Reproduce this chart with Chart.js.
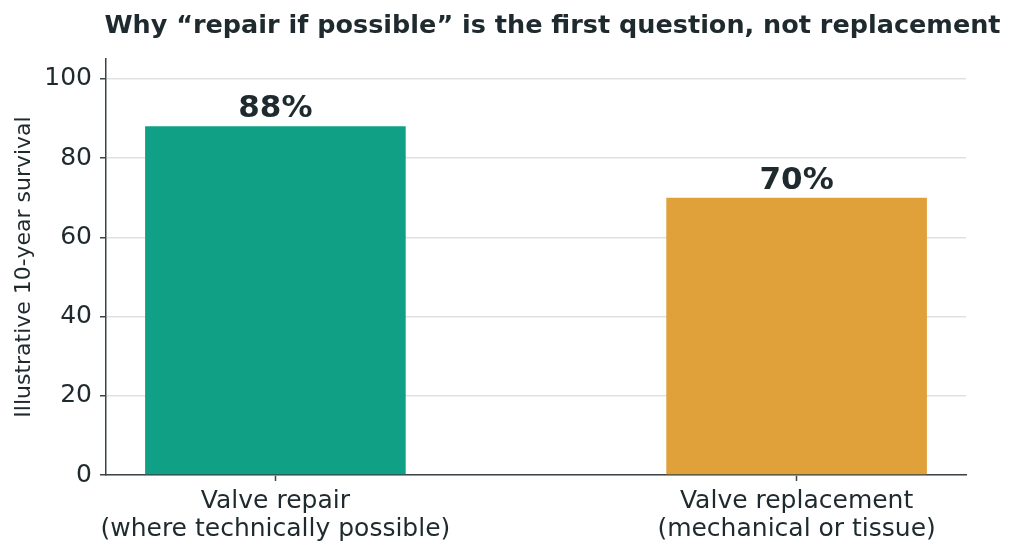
<!DOCTYPE html>
<html><head><meta charset="utf-8">
<script src="https://cdn.jsdelivr.net/npm/chart.js@4"></script>
<style>html,body{margin:0;padding:0;background:#fff}#wrap{width:1014px;height:556px}</style>
</head><body><div id="wrap"><canvas id="c" width="1014" height="556"></canvas></div>
<script>
const titleText = 'Why \u201crepair if possible\u201d is the first question, not replacement';
const categories = [['Valve repair','(where technically possible)'],['Valve replacement','(mechanical or tissue)']];
const positions = [0, 1];
const survival = [88, 70];
const valueLabels = ['88%', '70%'];
const barColors = ['#0fa085', '#e0a03a'];
const yTicks = [0, 20, 40, 60, 80, 100];
const yLabel = 'Illustrative 10-year survival';

const TEXT = '#1e2a2e', AXIS = '#3b4549', GRID = '#dfe1e1';
const FONT = "'DejaVu Sans', sans-serif";

const labelPlugin = {
  id: 'labels',
  afterDatasetsDraw(chart) {
    const ctx = chart.ctx;
    const meta = chart.getDatasetMeta(0);
    ctx.save();
    ctx.fillStyle = TEXT;
    ctx.font = "bold 31px " + FONT;
    ctx.textAlign = 'center';
    ctx.textBaseline = 'alphabetic';
    meta.data.forEach((el, i) => {
      ctx.fillText(valueLabels[i], el.x, el.y - 9);
    });
    ctx.restore();
  },
  afterDraw(chart) {
    const ctx = chart.ctx;
    const a = chart.chartArea;
    ctx.save();
    ctx.fillStyle = TEXT;
    ctx.font = "bold 25.5px " + FONT;
    ctx.textAlign = 'center';
    ctx.textBaseline = 'middle';
    ctx.fillText(titleText, (a.left + a.right) / 2 + 16.5, 26);
    ctx.restore();
  }
};

new Chart(document.getElementById('c'), {
  type: 'bar',
  data: {
    datasets: [{
      data: positions.map((p, i) => ({x: p, y: survival[i]})),
      backgroundColor: barColors,
      borderWidth: 0,
      categoryPercentage: 1,
      barPercentage: 0.5
    }]
  },
  options: {
    responsive: false,
    animation: false,
    devicePixelRatio: 1,
    layout: {padding: {top: 59, right: 48, left: 0, bottom: 0}},
    plugins: {legend: {display: false}, tooltip: {enabled: false}, title: {display: false}},
    scales: {
      x: {
        type: 'linear',
        min: -0.325, max: 1.325,
        offset: false,
        afterBuildTicks: s => { s.ticks = positions.map(v => ({value: v})); },
        afterFit: s => { s.height = 81; },
        ticks: {
          autoSkip: false, maxRotation: 0,
          color: TEXT, font: {family: FONT, size: 25, lineHeight: 1.14}, padding: 6,
          callback: (v) => categories[positions.indexOf(v)] ?? ''
        },
        grid: {offset: false, drawOnChartArea: false, drawTicks: true, tickLength: 6, tickColor: AXIS, tickWidth: 1.5},
        border: {color: AXIS, width: 1.5}
      },
      y: {
        min: 0, max: 105,
        afterBuildTicks: s => { s.ticks = yTicks.map(v => ({value: v})); },
        afterFit: s => { s.width = 106; },
        ticks: {color: TEXT, font: {family: FONT, size: 25}, padding: 8},
        grid: {color: GRID, lineWidth: 1.5, drawTicks: true, tickLength: 6, tickColor: AXIS, tickWidth: 1.5},
        border: {color: AXIS, width: 1.5},
        title: {display: true, text: yLabel, color: TEXT, font: {family: FONT, size: 22}, padding: {top: 11, bottom: 0}}
      }
    }
  },
  plugins: [labelPlugin]
});
</script></body></html>
